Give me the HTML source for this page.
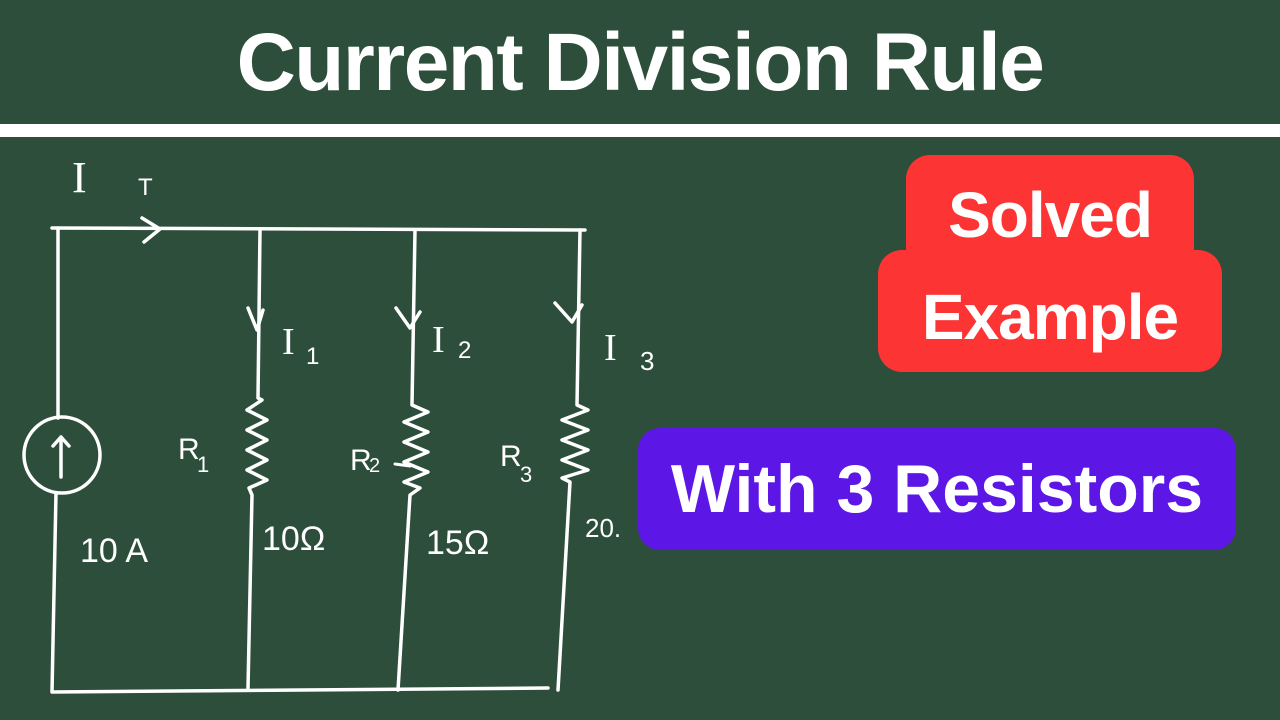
<!DOCTYPE html>
<html><head><meta charset="utf-8"><style>
html,body{margin:0;padding:0}
body{width:1280px;height:720px;background:#2d4e3b;position:relative;overflow:hidden;font-family:"Liberation Sans",sans-serif}
.title{position:absolute;left:0;top:0;width:1280px;height:125px;display:flex;align-items:center;justify-content:center;color:#fff;font-weight:bold;font-size:82px;letter-spacing:-1.5px}
.bar{position:absolute;left:0;top:124px;width:1280px;height:13px;background:#fff}
.red1{position:absolute;left:906px;top:155px;width:288px;height:150px;background:#fd3434;border-radius:24px}
.red2{position:absolute;left:878px;top:250px;width:344px;height:122px;background:#fd3434;border-radius:24px}
.rt{position:absolute;left:878px;width:344px;text-align:center;color:#fff;font-weight:bold;font-size:64px;letter-spacing:-1px}
.pur{position:absolute;left:638px;top:428px;width:598px;height:122px;background:#5c17e6;border-radius:22px;color:#fff;font-weight:bold;font-size:68px;display:flex;align-items:center;justify-content:center}
svg{position:absolute;left:0;top:0}
</style></head><body>
<div class="title">Current Division Rule</div>
<div class="bar"></div>
<svg width="1280" height="720" fill="none" stroke="#fff" stroke-width="3.5" stroke-linecap="round" stroke-linejoin="round">
<path d="M52 228 L585 230"/>
<path d="M142 218 L160 229 L144 242"/>
<path d="M58 228 L58 418"/>
<ellipse cx="62" cy="455" rx="38" ry="38"/>
<path d="M61 477 L61 437 M53 446 L61 437 L69 446"/>
<path d="M56 493 L52 692 L548 688"/>
<path d="M260 230 L258 398 L262 400 L247 410 L267 420 L247 430 L267 440 L247 450 L267 460 L247 470 L267 480 L249 488 L252 495 L248 688"/>
<path d="M248 308 L257 330 L263 310"/>
<path d="M415 230 L412 405 L428 412 L404 422 L428 432 L404 442 L428 452 L404 462 L428 472 L404 482 L420 488 L410 495 L398 690"/>
<path d="M396 308 L410 328 L420 312"/>
<path d="M580 230 L577 405 L588 410 L562 420 L588 430 L562 440 L588 450 L562 460 L588 470 L562 478 L570 482 L558 690"/>
<path d="M555 303 L572 322 L582 305"/>
<path d="M395 464 L410 466" stroke-width="3"/>
</svg>
<svg width="1280" height="720" font-family="Liberation Sans,sans-serif" fill="#fff">
<text x="72" y="192" font-size="44" font-family="Liberation Serif,serif">I</text>
<text x="138" y="195" font-size="24">T</text>
<text x="282" y="354" font-size="38" font-family="Liberation Serif,serif">I</text><text x="306" y="364" font-size="24">1</text>
<text x="432" y="352" font-size="38" font-family="Liberation Serif,serif">I</text><text x="458" y="358" font-size="24">2</text>
<text x="604" y="360" font-size="38" font-family="Liberation Serif,serif">I</text><text x="640" y="370" font-size="26">3</text>
<text x="178" y="459" font-size="30">R</text><text x="197" y="472" font-size="22">1</text>
<text x="350" y="470" font-size="30">R</text><text x="369" y="472" font-size="20">2</text>
<text x="500" y="466" font-size="30">R</text><text x="520" y="482" font-size="22">3</text>
<text x="80" y="562" font-size="34">10 A</text>
<text x="262" y="550" font-size="34">10Ω</text>
<text x="426" y="554" font-size="34">15Ω</text>
<text x="585" y="537" font-size="26">20.</text>
</svg>
<div class="red1"></div><div class="red2"></div>
<div class="rt" style="top:178px">Solved</div>
<div class="rt" style="top:280px">Example</div>
<div class="pur">With 3 Resistors</div>
</body></html>
